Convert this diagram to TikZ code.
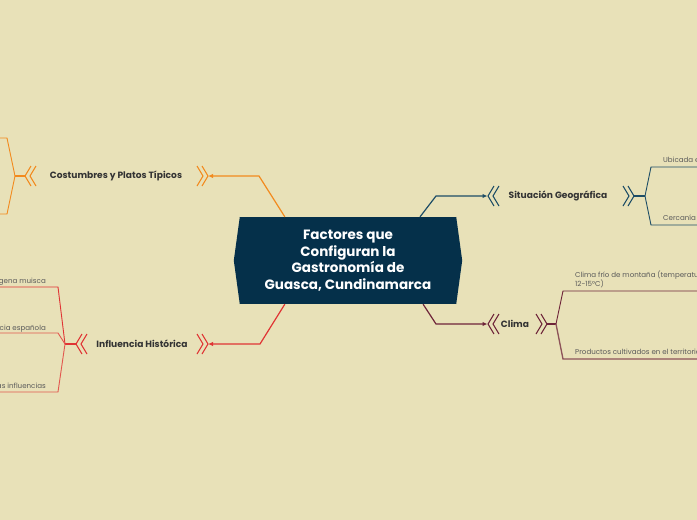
\documentclass[tikz,border=0pt]{standalone}
\usepackage{fontspec}
\setmainfont{Poppins}
\usetikzlibrary{arrows.meta,calc}
\definecolor{bgc}{HTML}{E8E1B8}
\definecolor{navy}{HTML}{05304A}
\definecolor{orng}{HTML}{F28A1E}
\definecolor{redc}{HTML}{E03434}
\definecolor{bluec}{HTML}{1D4D66}
\definecolor{maro}{HTML}{6E2439}
\definecolor{txtd}{HTML}{333333}
\definecolor{txtl}{HTML}{5A5A5A}
\tikzset{
  mainlbl/.style={text=txtd,font=\bfseries\fontsize{9.1}{10}\selectfont,inner sep=0pt},
  sublbl/.style={text=txtl,font=\fontsize{7.1}{8.5}\selectfont,inner sep=0pt,align=left},
  conn/.style={line width=1.2pt,-{Latex[length=5pt,width=4.5pt]}},
  brline/.style={line width=0.9pt},
  chevl/.pic={\draw[line width=1.1pt] (6,-10) -- (0,0) -- (6,10); \draw[line width=1.1pt] (11,-10) -- (5,0) -- (11,10);},
  chevr/.pic={\draw[line width=1.1pt] (0,-10) -- (6,0) -- (0,10); \draw[line width=1.1pt] (5,-10) -- (11,0) -- (5,10);},
  centerbox/.style={fill=navy,text=white,minimum width=216pt,minimum height=87pt,inner sep=0pt,align=center,
    font=\bfseries\fontsize{13.5}{16.5}\selectfont}
}
\begin{document}
\begin{tikzpicture}[x=1pt,y=-1pt]
\useasboundingbox (0,0) rectangle (697,520);
\fill[bgc] (0,0) rectangle (697,520);
\begin{scope}
\clip (0,0) rectangle (697,520);
% center
\node[centerbox] (ctr) at (348,260.5) {Factores que\\Configuran la\\Gastronomía de\\Guasca, Cundinamarca};
\fill[navy] (ctr.north west) -- ($(ctr.west)+(-6,0)$) -- (ctr.south west) -- cycle;
\fill[navy] (ctr.north east) -- ($(ctr.east)+(6,0)$) -- (ctr.south east) -- cycle;

% Costumbres (orange)
\node[mainlbl] (cos) at (116,176) {Costumbres y Platos Típicos};
\pic[draw=orng] at (197,176) {chevr};
\pic[draw=orng] at (25,176) {chevl};
\coordinate (cosR) at (208,176);
\coordinate (cosL) at (25,176);
\coordinate (cosJ) at (15,176);
\draw[conn,orng] ($(ctr.north west)!0.208!(ctr.north east)$) -- (259,176) -- (cosR);
\draw[brline,orng,line width=1.1pt] (cosL) -- (cosJ);
\draw[brline,orng] (cosJ) -- (7,138) -- (-2,138);
\draw[brline,orng] (cosJ) -- (7,214) -- (-2,214);

% Influencia (red)
\node[mainlbl] (inf) at (142,344) {Influencia Histórica};
\pic[draw=redc] at (197,344) {chevr};
\pic[draw=redc] at (76,344) {chevl};
\coordinate (infR) at (208,344);
\coordinate (infL) at (76,344);
\coordinate (infJ) at (65,344);
\draw[conn,redc] ($(ctr.south west)!0.208!(ctr.south east)$) -- (260,344) -- (infR);
\draw[brline,redc,line width=1.1pt] (infL) -- (infJ);
\draw[brline,redc] (infJ) -- (58,287) -- (-2,287);
\draw[brline,redc!80!bgc] (infJ) -- (58,333) -- (-2,333);
\draw[brline,redc!80!bgc] (infJ) -- (58,392) -- (-2,392);
\node[sublbl,anchor=base east] (inf1) at (46,283) {indígena muisca};
\node[sublbl,anchor=base east] (inf2) at (46,330) {Influencia española};
\node[sublbl,anchor=base east] (inf3) at (46,388) {Otras influencias};

% Situacion (blue)
\node[mainlbl] (sit) at (558,196) {Situación Geográfica};
\pic[draw=bluec] at (488,196) {chevl};
\pic[draw=bluec] at (623,196) {chevr};
\coordinate (sitL) at (487.5,196);
\coordinate (sitR) at (634,196);
\coordinate (sitJ) at (645,196);
\draw[conn,bluec] ($(ctr.north west)!0.833!(ctr.north east)$) -- (436,196) -- (sitL);
\draw[brline,bluec,line width=1.1pt] (sitR) -- (sitJ);
\draw[brline,bluec] (sitJ) -- (651,167) -- (699,167);
\draw[brline,bluec] (sitJ) -- (651,225) -- (699,225);
\node[sublbl,anchor=base west] (sit1) at (663,162) {Ubicada e};
\node[sublbl,anchor=base west] (sit2) at (663,220) {Cercanía a};

% Clima (maroon)
\node[mainlbl] (cli) at (515,324) {Clima};
\pic[draw=maro] at (488,324) {chevl};
\pic[draw=maro] at (536,324) {chevr};
\coordinate (cliL) at (487.5,324);
\coordinate (cliR) at (547,324);
\coordinate (cliJ) at (556,324);
\draw[conn,maro] ($(ctr.south west)!0.847!(ctr.south east)$) -- (436,324) -- (cliL);
\draw[brline,maro,line width=1.1pt] (cliR) -- (cliJ);
\draw[brline,maro] (cliJ) -- (563,291) -- (699,291);
\draw[brline,maro!75!bgc,line width=1.3pt] (cliJ) -- (563,359) -- (699,359);
\node[sublbl,anchor=base west] (cli1) at (575,277) {Clima frío de montaña (temperatura};
\node[sublbl,anchor=base west] (cli1b) at (575,286) {12-15°C)};
\node[sublbl,anchor=base west] (cli2) at (575,354) {Productos cultivados en el territorio};
\end{scope}
\end{tikzpicture}
\end{document}
